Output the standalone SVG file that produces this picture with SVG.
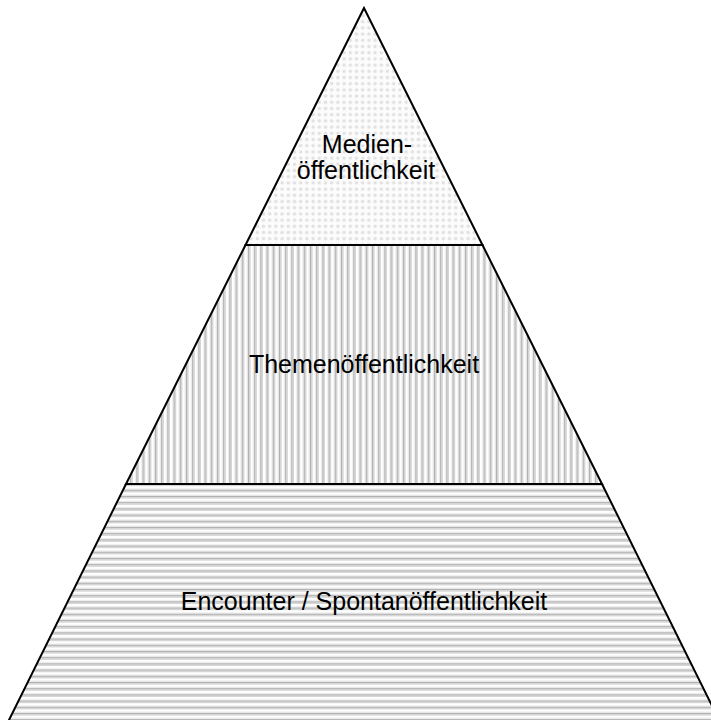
<svg xmlns="http://www.w3.org/2000/svg" width="711" height="720" viewBox="0 0 711 720">
<style>
.band{stroke:#000;stroke-width:2;stroke-linejoin:miter}
.lbl{font-family:"Liberation Sans",Arial,sans-serif;font-size:25px;fill:#000;text-anchor:middle}
</style>
<defs>
<pattern id="dots" patternUnits="userSpaceOnUse" width="6.2" height="6.2">
<rect width="6.2" height="6.2" fill="#fcfcfc"/>
<circle cx="3.1" cy="3.1" r="1.8" fill="#e2e2e2"/>
</pattern>
<pattern id="vlines" patternUnits="userSpaceOnUse" width="6.2" height="10">
<rect width="6.2" height="10" fill="#fff"/>
<rect x="0" width="1.3" height="10" fill="#b0b0b0"/>
<rect x="1.3" width="1.3" height="10" fill="#d4d4d4"/>
<rect x="4.9" width="1.3" height="10" fill="#e6e6e6"/>
</pattern>
<pattern id="hlines" patternUnits="userSpaceOnUse" width="10" height="6.2">
<rect width="10" height="6.2" fill="#fff"/>
<rect y="0" width="10" height="1.3" fill="#b0b0b0"/>
<rect y="1.3" width="10" height="1.3" fill="#d4d4d4"/>
<rect y="4.9" width="10" height="1.3" fill="#e6e6e6"/>
</pattern>
</defs>
<rect width="711" height="720" fill="#fff"/>
<g id="medienoeffentlichkeit">
<polygon class="band" points="364,8 245.5,245 482.5,245" fill="url(#dots)"/>
<text class="lbl" x="367" y="153">Medien-</text>
<text class="lbl" x="366" y="179">öffentlichkeit</text>
</g>
<g id="themenoeffentlichkeit">
<polygon class="band" points="245.5,245 482.5,245 602,484 126,484" fill="url(#vlines)"/>
<text class="lbl" x="364" y="373">Themenöffentlichkeit</text>
</g>
<g id="encounter">
<polygon class="band" points="126,484 602,484 720,722 8,722" fill="url(#hlines)"/>
<text class="lbl" x="364" y="610">Encounter / Spontanöffentlichkeit</text>
</g>
</svg>
